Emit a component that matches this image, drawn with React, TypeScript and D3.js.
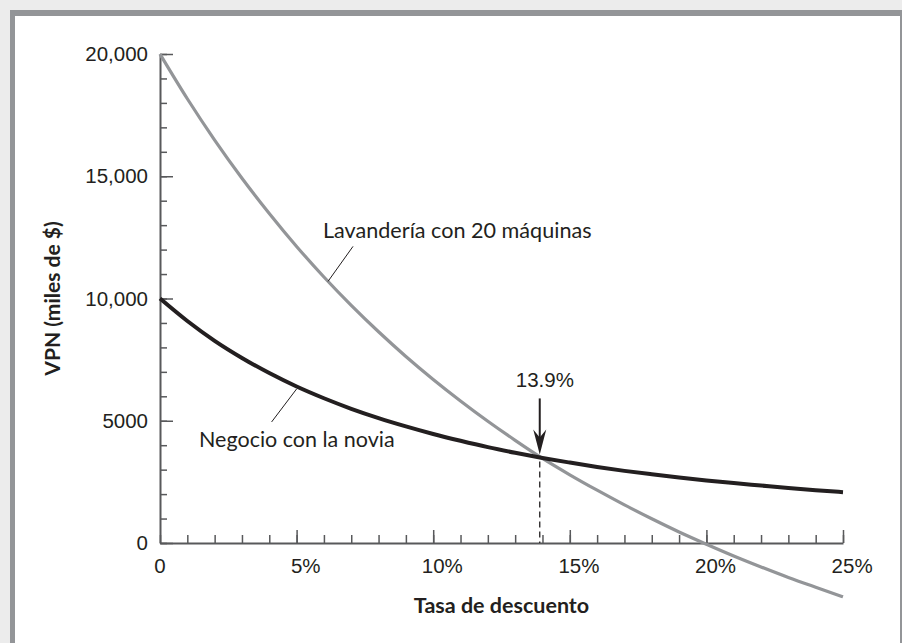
import React, { useRef, useEffect } from 'react';
import * as d3 from 'd3';

// tasa de descuento (%)
const rates = [0, 1, 2, 3, 4, 5, 6, 7, 8, 9, 10, 11, 12, 13, 14, 15, 16, 17, 18, 19, 20, 21, 22, 23, 24, 25];
// VPN, miles de $
const lavanderia = [20000, 18170, 16480, 14920, 13480, 12130, 10880, 9720, 8640, 7630, 6690, 5810, 4980, 4200, 3460, 2790, 2160, 1560, 990, 450, -50, -530, -980, -1410, -1810, -2200];
const negocio = [10000, 9080, 8270, 7570, 6950, 6400, 5920, 5490, 5110, 4770, 4460, 4180, 3920, 3690, 3480, 3290, 3110, 2950, 2810, 2680, 2560, 2450, 2350, 2250, 2160, 2080];

const yTicks = [0, 5000, 10000, 15000, 20000];
const yTickLabels = ['0', '5000', '10,000', '15,000', '20,000'];
const xTicks = [0, 5, 10, 15, 20, 25];
const xTickLabels = ['0', '5', '10', '15', '20', '25'];

const tir = 13.9;
const tirValue = 3500;

const ink = '#231f20';
const grayLine = '#939598';
const axisColor = '#58595b';

const App = () => {
  const ref = useRef<SVGSVGElement>(null);

  useEffect(() => {
    const width = 902;
    const height = 643;
    const svg = d3.select(ref.current);
    svg.selectAll('*').remove();

    // marco
    svg.append('rect').attr('width', width).attr('height', height).attr('fill', '#ececec');
    svg.append('rect').attr('x', 10).attr('y', 10).attr('width', 892).attr('height', 640).attr('fill', '#939598');
    svg.append('rect').attr('x', 15).attr('y', 16).attr('width', 885).attr('height', 640).attr('fill', '#fff');

    const x = d3.scaleLinear().domain([0, 25]).range([160, 843]);
    const y = d3.scaleLinear().domain([0, 20000]).range([543, 54]);

    // eje y
    const yMinor = svg.append('g').attr('transform', `translate(${x(0)},0)`)
      .call(d3.axisLeft(y).tickValues(d3.range(0, 20001, 1000)).tickSizeInner(-7).tickSizeOuter(0).tickFormat(() => ''));
    yMinor.select('.domain').attr('stroke', axisColor).attr('stroke-width', 2);
    yMinor.selectAll('line').attr('stroke', axisColor).attr('stroke-width', 1.5);

    const yMajor = svg.append('g').attr('transform', `translate(${x(0)},0)`)
      .call(d3.axisLeft(y).tickValues(yTicks).tickSizeInner(-13).tickSizeOuter(0).tickPadding(12)
        .tickFormat((d, i) => yTickLabels[i]));
    yMajor.select('.domain').remove();
    yMajor.selectAll('line').attr('stroke', axisColor).attr('stroke-width', 1.5);
    yMajor.selectAll('text')
      .attr('fill', ink)
      .style('font-family', '"Liberation Sans", Arial, sans-serif')
      .style('font-size', '20.5px');

    // eje x
    const xMinor = svg.append('g').attr('transform', `translate(0,${y(0)})`)
      .call(d3.axisBottom(x).tickValues(d3.range(0, 26, 1)).tickSizeInner(-8).tickSizeOuter(0).tickFormat(() => ''));
    xMinor.select('.domain').attr('stroke', axisColor).attr('stroke-width', 2);
    xMinor.selectAll('line').attr('stroke', axisColor).attr('stroke-width', 1.5);

    const xMajor = svg.append('g').attr('transform', `translate(0,${y(0)})`)
      .call(d3.axisBottom(x).tickValues(xTicks.filter(d => d > 0)).tickSizeInner(-13).tickSizeOuter(0).tickFormat(() => ''));
    xMajor.select('.domain').remove();
    xMajor.selectAll('line').attr('stroke', axisColor).attr('stroke-width', 1.5);

    // etiquetas x: el número centrado en la marca, el % a la derecha
    xTicks.forEach((t, i) => {
      const num = svg.append('text')
        .attr('x', x(t)).attr('y', 573)
        .attr('text-anchor', 'middle')
        .attr('fill', ink)
        .style('font-family', '"Liberation Sans", Arial, sans-serif')
        .style('font-size', '20.5px')
        .text(xTickLabels[i]);
      if (t > 0) {
        const w = (num.node() as SVGTextElement).getComputedTextLength();
        svg.append('text')
          .attr('x', x(t) + w / 2).attr('y', 573)
          .attr('fill', ink)
          .style('font-family', '"Liberation Sans", Arial, sans-serif')
          .style('font-size', '20.5px')
          .text('%');
      }
    });

    // títulos de ejes
    svg.append('text')
      .attr('transform', `translate(53,${(y(0) + y(20000)) / 2}) rotate(-90)`)
      .attr('text-anchor', 'middle')
      .attr('dy', '0.35em')
      .attr('fill', ink)
      .style('font-family', 'Lato, "Open Sans", sans-serif')
      .style('font-weight', 700)
      .style('font-size', '21px')
      .text('VPN (miles de $)');

    svg.append('text')
      .attr('x', (x(0) + x(25)) / 2).attr('y', 613)
      .attr('text-anchor', 'middle')
      .attr('fill', ink)
      .style('font-family', 'Lato, "Open Sans", sans-serif')
      .style('font-weight', 700)
      .style('font-size', '21.5px')
      .text('Tasa de descuento');

    // curvas
    const line = d3.line<number>()
      .x((d, i) => x(rates[i]))
      .y(d => y(d))
      .curve(d3.curveMonotoneX);

    svg.append('path').attr('d', line(lavanderia))
      .attr('fill', 'none').attr('stroke', grayLine).attr('stroke-width', 3.2);
    svg.append('path').attr('d', line(negocio))
      .attr('fill', 'none').attr('stroke', ink).attr('stroke-width', 4);

    // línea punteada y flecha en la TIR incremental
    const px = x(tir);
    const py = y(tirValue);
    svg.append('line')
      .attr('x1', px).attr('x2', px).attr('y1', py + 4).attr('y2', y(0))
      .attr('stroke', ink).attr('stroke-width', 1.3).attr('stroke-dasharray', '6,4');
    svg.append('line')
      .attr('x1', px).attr('x2', px).attr('y1', py - 59).attr('y2', py - 18)
      .attr('stroke', ink).attr('stroke-width', 2);
    svg.append('path')
      .attr('d', `M${px},${py - 3} L${px - 6.5},${py - 28} L${px},${py - 20} L${px + 6.5},${py - 28} Z`)
      .attr('fill', ink);
    svg.append('text')
      .attr('x', px - 24).attr('y', py - 70)
      .attr('fill', ink)
      .style('font-family', '"Liberation Sans", Arial, sans-serif')
      .style('font-size', '20.5px')
      .text('13.9%');

    // rótulos de las curvas
    const gx = x(6.15);
    const gy = y(10700);
    svg.append('line')
      .attr('x1', gx).attr('y1', gy).attr('x2', gx + 25).attr('y2', gy - 35)
      .attr('stroke', ink).attr('stroke-width', 1);
    svg.append('text')
      .attr('x', 323).attr('y', 238)
      .attr('fill', ink)
      .style('font-family', 'Lato, "Open Sans", sans-serif')
      .style('font-size', '21.6px')
      .text('Lavandería con 20 máquinas');

    const bx = x(5);
    const by = y(6300);
    svg.append('line')
      .attr('x1', bx).attr('y1', by).attr('x2', bx - 25).attr('y2', by + 33)
      .attr('stroke', ink).attr('stroke-width', 1);
    svg.append('text')
      .attr('x', 199).attr('y', 447)
      .attr('fill', ink)
      .style('font-family', 'Lato, "Open Sans", sans-serif')
      .style('font-size', '21.5px')
      .text('Negocio con la novia');
  }, []);

  return <svg ref={ref} width={902} height={643} style={{ position: 'absolute', left: 0, top: 0 }} />;
};

export default App;
